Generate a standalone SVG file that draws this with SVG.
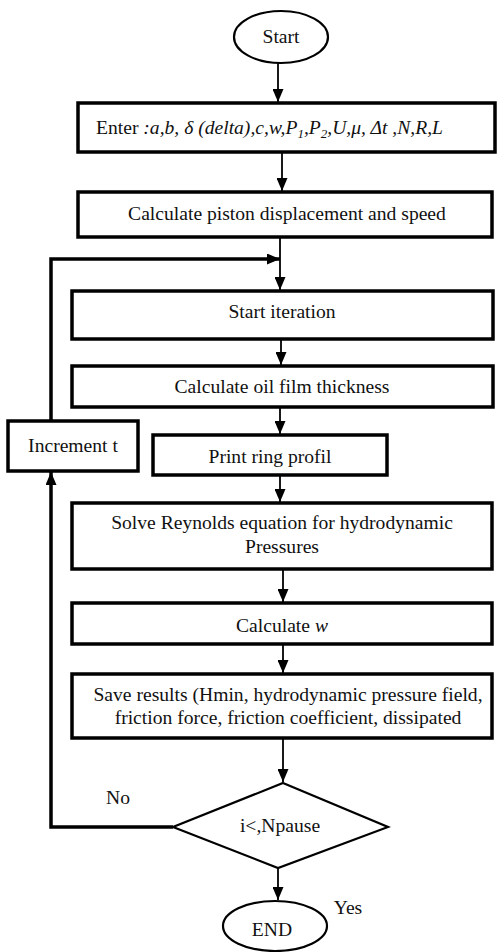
<svg xmlns="http://www.w3.org/2000/svg" width="499" height="952" viewBox="0 0 499 952">
<style>
.box{fill:#fff;stroke:#000;stroke-width:3.5}
.term{fill:#fff;stroke:#000;stroke-width:2.2}
.dia{fill:#fff;stroke:#000;stroke-width:2.2}
.t{font-family:"Liberation Serif","Times New Roman",serif;font-size:19.6px;fill:#111;text-anchor:middle}
.ln{fill:none;stroke:#000;stroke-width:1.8}
.lnb{fill:none;stroke:#000;stroke-width:3.5}
.it{font-style:italic}
</style>
<defs>
<marker id="ah" markerUnits="userSpaceOnUse" markerWidth="13" markerHeight="11" refX="13" refY="5.5" orient="auto">
<path d="M0,0 L13,5.5 L0,11 z" fill="#000"/>
</marker>
</defs>
<g id="connectors">
<path class="ln" d="M278,63 V102" marker-end="url(#ah)"/>
<path class="ln" d="M282,152 V191" marker-end="url(#ah)"/>
<path class="ln" d="M280,237 V290" marker-end="url(#ah)"/>
<path class="lnb" d="M51,421 V259 H280" marker-end="url(#ah)"/>
<path class="ln" d="M281,339 V365" marker-end="url(#ah)"/>
<path class="ln" d="M280,407 V434" marker-end="url(#ah)"/>
<path class="ln" d="M280,475 V502" marker-end="url(#ah)"/>
<path class="ln" d="M283,569 V602" marker-end="url(#ah)"/>
<path class="ln" d="M283,644 V673" marker-end="url(#ah)"/>
<path class="ln" d="M283,738 V782" marker-end="url(#ah)"/>
<path class="ln" d="M278,868 V900" marker-end="url(#ah)"/>
<path class="lnb" d="M173,827 H51 V472" marker-end="url(#ah)"/>
</g>
<g id="start">
<ellipse class="term" cx="281" cy="37" rx="47" ry="26"/>
<text class="t" x="281" y="43">Start</text>
</g>
<g id="enter">
<rect class="box" x="78" y="103" width="417" height="49"/>
<text class="t" x="96" y="134" style="text-anchor:start">Enter <tspan class="it">:a,b, δ  (delta),c,w,P<tspan font-size="13" dy="4">1</tspan><tspan dy="-4">,P</tspan><tspan font-size="13" dy="4">2</tspan><tspan dy="-4">,U,μ, Δt ,N,R,L</tspan></tspan></text>
</g>
<g id="piston">
<rect class="box" x="78" y="192" width="414" height="45"/>
<text class="t" x="287" y="220">Calculate piston displacement and speed</text>
</g>
<g id="start-iteration">
<rect class="box" x="72" y="291" width="421" height="48"/>
<text class="t" x="282" y="318">Start iteration</text>
</g>
<g id="oil-film">
<rect class="box" x="72" y="366" width="421" height="41"/>
<text class="t" x="282" y="393">Calculate oil film thickness</text>
</g>
<g id="increment">
<rect class="box" x="8" y="421" width="130" height="50"/>
<text class="t" x="73" y="452">Increment t</text>
</g>
<g id="print-ring">
<rect class="box" x="153" y="435" width="234" height="40"/>
<text class="t" x="270" y="463">Print ring profil</text>
</g>
<g id="reynolds">
<rect class="box" x="72" y="503" width="420" height="66"/>
<text class="t" x="282" y="529">Solve Reynolds equation for hydrodynamic</text>
<text class="t" x="282" y="553">Pressures</text>
</g>
<g id="calc-w">
<rect class="box" x="72" y="603" width="420" height="41"/>
<text class="t" x="282" y="632">Calculate <tspan class="it">w</tspan></text>
</g>
<g id="save">
<rect class="box" x="72" y="674" width="420" height="64"/>
<text class="t" x="288" y="701">Save results (Hmin, hydrodynamic pressure field,</text>
<text class="t" x="288" y="724">friction force, friction coefficient, dissipated</text>
</g>
<g id="decision">
<polygon class="dia" points="283,783 388,827 278,868 173,827"/>
<text class="t" x="280" y="832">i&lt;,Npause</text>
</g>
<g id="end">
<ellipse class="term" cx="275" cy="926" rx="52" ry="25"/>
<text class="t" x="272" y="936">END</text>
</g>
<g id="labels">
<text class="t" x="118" y="804">No</text>
<text class="t" x="348" y="914">Yes</text>
</g>
</svg>
